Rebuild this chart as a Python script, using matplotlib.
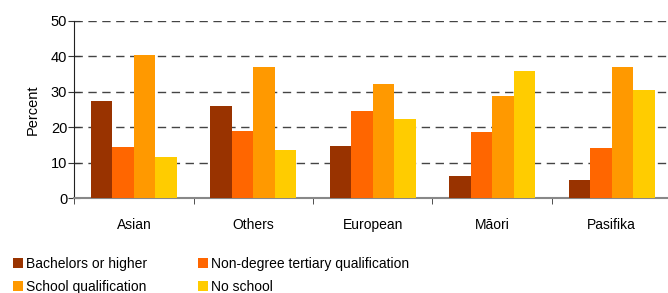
import matplotlib
matplotlib.use("Agg")
import matplotlib.pyplot as plt
import numpy as np

plt.rcParams['font.family'] = ['Liberation Sans', 'DejaVu Sans']

categories = ["Asian", "Others", "European", "Māori", "Pasifika"]
series_names = ["Bachelors or higher", "Non-degree tertiary qualification",
                "School qualification", "No school"]
bachelors = [27.4, 25.9, 14.7, 6.2, 5.1]
non_degree = [14.5, 18.9, 24.5, 18.6, 14.1]
school = [40.3, 36.9, 32.1, 28.8, 36.9]
no_school = [11.6, 13.5, 22.3, 35.8, 30.5]
colors = ["#993300", "#FF6600", "#FF9900", "#FFCC00"]

fig = plt.figure(figsize=(6.68, 2.93), dpi=100)
ax = fig.add_axes([0.111, 0.324, 0.894, 0.605])

x = np.arange(len(categories))
w = 0.18
series = [bachelors, non_degree, school, no_school]
bars = []
for i, vals in enumerate(series):
    b = ax.bar(x + (i - 1.5) * w, vals, w, color=colors[i], label=series_names[i], zorder=3)
    bars.append(b)

ax.set_xlim(-0.5, len(categories) - 0.5)
ax.set_ylim(0, 50)
ax.set_yticks(range(0, 51, 10))
ax.yaxis.grid(True, linestyle=(0, (6, 4)), color="#444444", linewidth=1, zorder=0)
ax.set_xticks(x)
ax.set_xticklabels(categories, fontsize=10)
ax.set_xticks(np.arange(-0.5, len(categories)), minor=True)
ax.tick_params(axis='x', which='major', length=0, pad=14)
ax.tick_params(axis='x', which='minor', length=4, color="#333333", direction='out')
ax.tick_params(axis='y', length=8, direction='inout', labelsize=10.5, color="#333333", pad=1)
ax.set_ylabel("Percent", fontsize=10.5, labelpad=8)

for s in ["top", "right"]:
    ax.spines[s].set_visible(False)
ax.spines["left"].set_color("#222222")
ax.spines["bottom"].set_color("#888888")
ax.spines["bottom"].set_linewidth(1.5)

# legend fills column-wise, so order handles to get rows like the original
order = [0, 2, 1, 3]
fig.legend(handles=[bars[i] for i in order], loc="lower left", bbox_to_anchor=(0.0, -0.045), ncol=2,
           frameon=False, fontsize=10, handlelength=0.75, handleheight=0.75,
           handletextpad=0.25, columnspacing=3.6, labelspacing=0.62)

fig.savefig("out.png", dpi=100)
